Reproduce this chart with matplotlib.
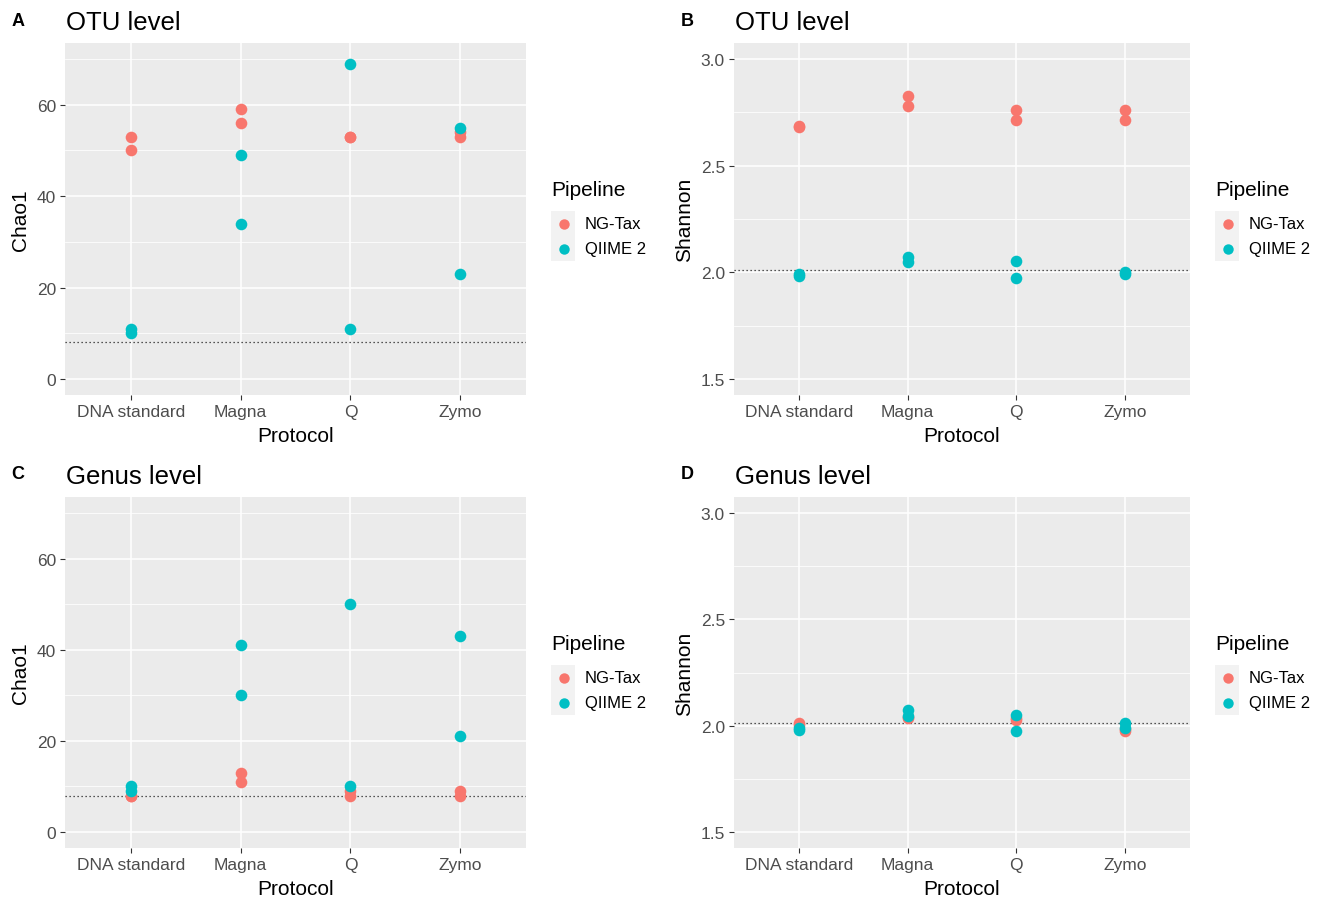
import numpy as np
import matplotlib
matplotlib.use("Agg")
import matplotlib.pyplot as plt
from matplotlib.patches import Rectangle

plt.rcParams['font.family'] = ['Liberation Sans', 'DejaVu Sans']

protocols = ["DNA standard", "Magna", "Q", "Zymo"]
pipelines = ["NG-Tax", "QIIME 2"]
colors = ["#F8766D", "#00BFC4"]

# two replicates per protocol
otu_chao_ngtax = [[53, 50], [59, 56], [53, 53], [54, 53]]
otu_chao_qiime = [[11, 10], [49, 34], [69, 11], [55, 23]]
otu_shannon_ngtax = [[2.687, 2.680], [2.826, 2.782], [2.763, 2.712], [2.763, 2.712]]
otu_shannon_qiime = [[1.994, 1.984], [2.074, 2.050], [2.053, 1.973], [2.003, 1.990]]
genus_chao_ngtax = [[8, 8], [13, 11], [9, 8], [9, 8]]
genus_chao_qiime = [[10, 9], [41, 30], [50, 10], [43, 21]]
genus_shannon_ngtax = [[2.011, 2.005], [2.040, 2.036], [2.034, 2.027], [1.983, 1.975]]
genus_shannon_qiime = [[1.990, 1.980], [2.076, 2.045], [2.050, 1.975], [2.011, 1.990]]

chao_expected = 8
shannon_expected = 2.011

W, H = 1328, 903


def fx(px):
    return px / W


def fy(py):
    return 1 - py / H


def make_panel(fig, box, letter, title, ylabel, ng, qi, hline, ylim, major, minor, yfmt):
    left, top, right, bottom = box
    ax = fig.add_axes([fx(left), fy(bottom), fx(right - left), (bottom - top) / H])
    ax.set_facecolor("#EBEBEB")
    for s in ax.spines.values():
        s.set_visible(False)
    ax.set_xlim(0.4, 4.6)
    ax.set_ylim(*ylim)
    ax.set_yticks(major)
    ax.set_yticks(minor, minor=True)
    ax.set_yticklabels([yfmt.format(v) for v in major])
    ax.set_xticks(range(1, 5))
    ax.set_xticklabels(protocols)
    ax.grid(True, which="major", color="white", linewidth=1.1)
    ax.grid(True, which="minor", axis="y", color="white", linewidth=0.55)
    ax.set_axisbelow(True)
    ax.tick_params(which="major", length=3.5, width=0.8, color="#333333",
                   labelsize=12.5, labelcolor="#4D4D4D", pad=3)
    ax.tick_params(which="minor", length=0)
    ax.axhline(hline, color="#222222", linestyle=(0, (1, 2.2)), linewidth=0.9, zorder=2)
    for vals, c in [(ng, colors[0]), (qi, colors[1])]:
        xs = np.repeat(np.arange(1, 5), 2)
        ys = np.array(vals).ravel()
        ax.scatter(xs, ys, s=70, color=c, linewidths=0, zorder=3)
    ax.set_xlabel("Protocol", fontsize=15, labelpad=5)
    ax.set_ylabel(ylabel, fontsize=15, labelpad=5)

    fig.text(fx(left - 47), fy(top - 23), letter, fontsize=13, fontweight="bold",
             ha="center", va="center")
    fig.text(fx(left + 1), fy(top - 21), title, fontsize=18.5, ha="left", va="center")

    # legend
    lx = right + 25
    fig.text(fx(lx), fy(top + 147), "Pipeline", fontsize=15, ha="left", va="center")
    for i, name in enumerate(pipelines):
        ky = top + 168 + 25 * i
        fig.add_artist(Rectangle((fx(lx), fy(ky + 25)), 24 / W, 25 / H,
                                 transform=fig.transFigure, facecolor="#F2F2F2",
                                 edgecolor="none"))
        fig.add_artist(plt.Line2D([fx(lx + 13)], [fy(ky + 12.5)], marker="o",
                                  markersize=7.5, color=colors[i], markeredgewidth=0,
                                  transform=fig.transFigure))
        fig.text(fx(lx + 34), fy(ky + 12.5), name, fontsize=12, ha="left", va="center")
    return ax


def main():
    fig = plt.figure(figsize=(W / 100, H / 100), dpi=100)
    chao_lim = (-3.5, 73.5)
    sh_lim = (1.425, 3.075)
    chao_major = [0, 20, 40, 60]
    chao_minor = [10, 30, 50, 70]
    sh_major = [1.5, 2.0, 2.5, 3.0]
    sh_minor = [1.75, 2.25, 2.75]
    make_panel(fig, (65, 44, 526, 396), "A", "OTU level", "Chao1",
               otu_chao_ngtax, otu_chao_qiime, chao_expected, chao_lim,
               chao_major, chao_minor, "{:g}")
    make_panel(fig, (734, 44, 1190, 396), "B", "OTU level", "Shannon",
               otu_shannon_ngtax, otu_shannon_qiime, shannon_expected, sh_lim,
               sh_major, sh_minor, "{:.1f}")
    make_panel(fig, (65, 498, 526, 849), "C", "Genus level", "Chao1",
               genus_chao_ngtax, genus_chao_qiime, chao_expected, chao_lim,
               chao_major, chao_minor, "{:g}")
    make_panel(fig, (734, 498, 1190, 849), "D", "Genus level", "Shannon",
               genus_shannon_ngtax, genus_shannon_qiime, shannon_expected, sh_lim,
               sh_major, sh_minor, "{:.1f}")
    fig.savefig("out.png", dpi=100, facecolor="white")


if __name__ == "__main__":
    main()
